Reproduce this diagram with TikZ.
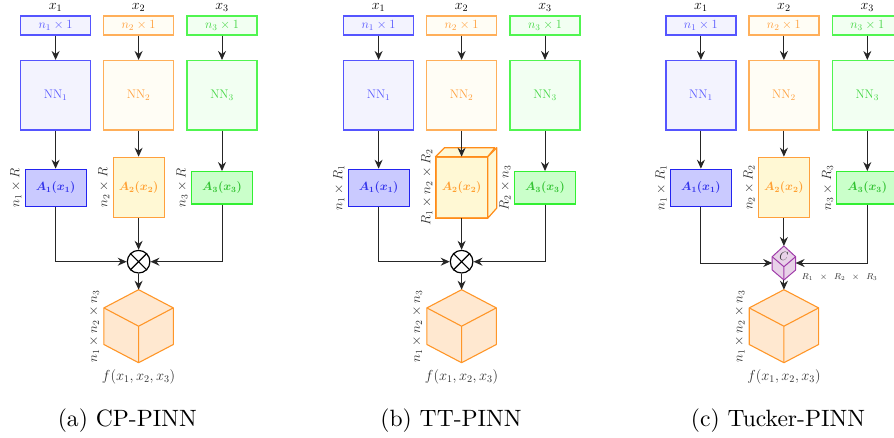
\RequirePackage{fix-cm}
\documentclass[tikz,border=0pt]{standalone}
\usepackage{amsmath}
\usepackage{graphicx}
\usetikzlibrary{arrows.meta,calc}
\definecolor{bDraw}{RGB}{85,85,255}
\definecolor{bFill}{RGB}{243,243,254}
\definecolor{bText}{RGB}{90,90,255}
\definecolor{bADraw}{RGB}{35,35,240}
\definecolor{bAFill}{RGB}{202,202,255}
\definecolor{bAText}{RGB}{50,50,235}
\definecolor{oDraw}{RGB}{255,175,90}
\definecolor{oFill}{RGB}{255,253,245}
\definecolor{oText}{RGB}{255,160,60}
\definecolor{oADraw}{RGB}{255,160,60}
\definecolor{oAFill}{RGB}{255,248,212}
\definecolor{oAText}{RGB}{255,160,50}
\definecolor{oBoxDraw}{RGB}{255,140,25}
\definecolor{gDraw}{RGB}{80,245,80}
\definecolor{gFill}{RGB}{242,255,242}
\definecolor{gText}{RGB}{70,215,70}
\definecolor{gADraw}{RGB}{50,240,50}
\definecolor{gAFill}{RGB}{202,255,202}
\definecolor{gAText}{RGB}{50,195,50}
\definecolor{cubeFill}{RGB}{255,232,208}
\definecolor{cubeDraw}{RGB}{255,150,40}
\definecolor{coreFill}{RGB}{232,210,232}
\definecolor{coreDraw}{RGB}{160,60,170}
\definecolor{labText}{RGB}{45,45,45}
\newcommand{\fsz}[1]{\fontsize{#1}{#1}\selectfont}
\newcommand{\captxt}[1]{\scalebox{2.36}{\fsz{10}#1}}
\tikzset{
  arr/.style={-{Stealth[length=9pt,width=8pt,inset=3pt]}, line width=1pt, draw=black!85},
  box/.style={draw, line width=1.2pt, inner sep=0pt},
  inbox/.style={box, minimum width=70pt, minimum height=19pt, font=\fsz{12.5}},
  nnbox/.style={box, minimum width=70pt, minimum height=69.5pt, font=\fsz{12.5}},
  abox/.style={box, font=\fsz{12}},
  bcol/.style={draw=bDraw, fill=bFill, text=bText},
  ocol/.style={draw=oDraw, fill=oFill, text=oText},
  gcol/.style={draw=gDraw, fill=gFill, text=gText},
  bAcol/.style={draw=bADraw, fill=bAFill, text=bAText},
  oAcol/.style={draw=oADraw, fill=oAFill, text=oAText},
  gAcol/.style={draw=gADraw, fill=gAFill, text=gAText},
  xlab/.style={anchor=base, inner sep=0pt, font=\fsz{14}, text=black},
  rlab/.style={rotate=90, anchor=south, inner sep=3pt, font=\fsz{13.4}, text=labText},
  flab/.style={anchor=base, inner sep=0pt, font=\fsz{14.5}, text=labText},
  caplab/.style={anchor=base, inner sep=0pt, text=black},
  otimes/.style={circle, draw=black, line width=1.2pt, minimum size=22.6pt, inner sep=0pt, fill=white},
  cubebox/.style={minimum width=69.4pt, minimum height=73pt, inner sep=0pt, outer sep=0pt},
  corebox/.style={minimum width=23.4pt, minimum height=34pt, inner sep=0pt, outer sep=0pt},
  bigcube/.pic={
    \path[fill=cubeFill, draw=cubeDraw, line width=1.1pt, line join=round]
      (0,-36.5) -- (-34.7,-18.3) -- (-34.7,18.3) -- (0,36.5) -- (34.7,18.3) -- (34.7,-18.3) -- cycle;
    \draw[cubeDraw, line width=1.1pt, line join=round] (-34.7,-18.3) -- (0,0) -- (34.7,-18.3) (0,0) -- (0,36.5);
  },
  corecube/.pic={
    \path[fill=coreFill, draw=coreDraw, line width=1pt, line join=round]
      (0,-17) -- (-11.7,-6.3) -- (-11.7,7) -- (0,17) -- (11.7,7) -- (11.7,-6.3) -- cycle;
    \draw[coreDraw, line width=1pt, line join=round] (-11.7,-6.3) -- (0,3.7) -- (11.7,-6.3) (0,3.7) -- (0,17);
  }
}
\newcommand{\panelcols}[1]{%
  \node[xlab] (#1x1) at (55.6,9.8) {$x_1$};
  \node[xlab] (#1x2) at (138.6,9.8) {$x_2$};
  \node[xlab] (#1x3) at (222,9.8) {$x_3$};
  \node[inbox,bcol] (#1in1) at (55.6,25.5) {$n_1\times 1$};
  \node[inbox,ocol] (#1in2) at (138.6,25.5) {$n_2\times 1$};
  \node[inbox,gcol] (#1in3) at (222,25.5) {$n_3\times 1$};
  \node[nnbox,bcol] (#1NN1) at (55.6,95.3) {$\mathrm{NN}_1$};
  \node[nnbox,ocol] (#1NN2) at (138.6,95.3) {$\mathrm{NN}_2$};
  \node[nnbox,gcol] (#1NN3) at (222,95.3) {$\mathrm{NN}_3$};
  \node[abox,bAcol,minimum width=61pt,minimum height=37pt] (#1A1) at (55.6,187.8) {$\boldsymbol{A_1(x_1)}$};
  \node[abox,oAcol,minimum width=51pt,minimum height=60.4pt] (#1A2) at (138.6,187.5) {$\boldsymbol{A_2(x_2)}$};
  \node[abox,gAcol,minimum width=61pt,minimum height=32.3pt] (#1A3) at (222,187.8) {$\boldsymbol{A_3(x_3)}$};
}
\newcommand{\panelarrows}[1]{%
  \draw[arr] (#1in1) -- (#1NN1);
  \draw[arr] (#1in2) -- (#1NN2);
  \draw[arr] (#1in3) -- (#1NN3);
  \draw[arr] (#1NN1) -- (#1A1);
  \draw[arr] (#1NN2) -- (#1A2);
  \draw[arr] (#1NN3) -- (#1A3);
}
\newcommand{\paneloutput}[1]{%
  \node[cubebox] (#1cube) at (138.6,326.2) {};
  \pic at (#1cube.center) {bigcube};
  \node[rlab, anchor=center] (#1cubelab) at (94.3,326.5) {$n_1\times n_2\times n_3$};
  \node[flab] (#1f) at (138.6,380.7) {$f(x_1,x_2,x_3)$};
}
\begin{document}
\begin{tikzpicture}[x=1pt,y=-1pt]
\clip (0,0) rectangle (894,437);
\useasboundingbox (0,0) rectangle (894,437);
% ---------- (a) CP-PINN ----------
\begin{scope}
  \panelcols{a}
  \node[rlab] (alab1) at (aA1.west) {$n_1\times R$};
  \node[rlab] (alab2) at (aA2.west) {$n_2\times R$};
  \node[rlab] (alab3) at (aA3.west) {$n_3\times R$};
  \panelarrows{a}
  \node[otimes] (aot) at (138.6,261.7) {};
  \draw[line width=1.2pt] (aot.north west) -- (aot.south east) (aot.north east) -- (aot.south west);
  \paneloutput{a}
  \draw[arr] (aA2) -- (aot);
  \draw[arr] (aA1.south) |- (aot.west);
  \draw[arr] (aA3.south) |- (aot.east);
  \draw[arr] (aot) -- (acube.north);
\end{scope}
% ---------- (b) TT-PINN ----------
\begin{scope}[shift={(323,0)}]
  \panelcols{b}
  \path[fill=oAFill, draw=oBoxDraw, line width=1.2pt, line join=round]
    (bA2.north west) -- ++(9,-9) -- ++(50.4,0) -- (bA2.north east) -- cycle;
  \path[fill=oAFill, draw=oBoxDraw, line width=1.2pt, line join=round]
    (bA2.north east) -- ++(9,-9) -- ++(0,60.4) -- (bA2.south east) -- cycle;
  \draw[oBoxDraw, line width=1.2pt] (bA2.north west) rectangle (bA2.south east);
  \node[rlab] (blab1) at (bA1.west) {$n_1\times R_1$};
  \node[rlab] (blab2) at (bA2.west) {$R_1\times n_2\times R_2$};
  \node[rlab] (blab3) at (bA3.west) {$R_2\times n_3$};
  \panelarrows{b}
  \node[otimes] (bot) at (138.6,261.7) {};
  \draw[line width=1.2pt] (bot.north west) -- (bot.south east) (bot.north east) -- (bot.south west);
  \paneloutput{b}
  \draw[arr] (bA2) -- (bot);
  \draw[arr] (bA1.south) |- (bot.west);
  \draw[arr] (bA3.south) |- (bot.east);
  \draw[arr] (bot) -- (bcube.north);
\end{scope}
% ---------- (c) Tucker-PINN ----------
\begin{scope}[shift={(645.3,0)}]
  \panelcols{c}
  \node[rlab] (clab1) at (cA1.west) {$n_1\times R_1$};
  \node[rlab] (clab2) at (cA2.west) {$n_2\times R_2$};
  \node[rlab] (clab3) at (cA3.west) {$n_3\times R_3$};
  \panelarrows{c}
  \node[corebox] (ccore) at (138.6,263) {};
  \pic at (ccore.center) {corecube};
  \node[inner sep=0pt, font=\fsz{12}, text=black!80] (cC) at (138.6,256.8) {$C$};
  \node[anchor=west, inner sep=0pt, font=\fsz{8.6}, text=labText] (ccorelab) at (156.4,277.3)
    {$R_1\hspace{5pt}\times\hspace{5pt}R_2\hspace{5pt}\times\hspace{5pt}R_3$};
  \paneloutput{c}
  \draw[arr] (cA2) -- (ccore.north);
  \draw[arr] (cA1.south) |- (ccore.west);
  \draw[arr] (cA3.south) |- (ccore.east);
  \draw[arr] (ccore.south) -- (ccube.north);
\end{scope}
% ---------- captions ----------
\node[caplab] (capa) at (127.3,426.7) {\captxt{(a) CP-PINN}};
\node[caplab] (capb) at (451,426.7) {\captxt{(b) TT-PINN}};
\node[caplab] (capc) at (778,426.7) {\captxt{(c) Tucker-PINN}};
\end{tikzpicture}
\end{document}
